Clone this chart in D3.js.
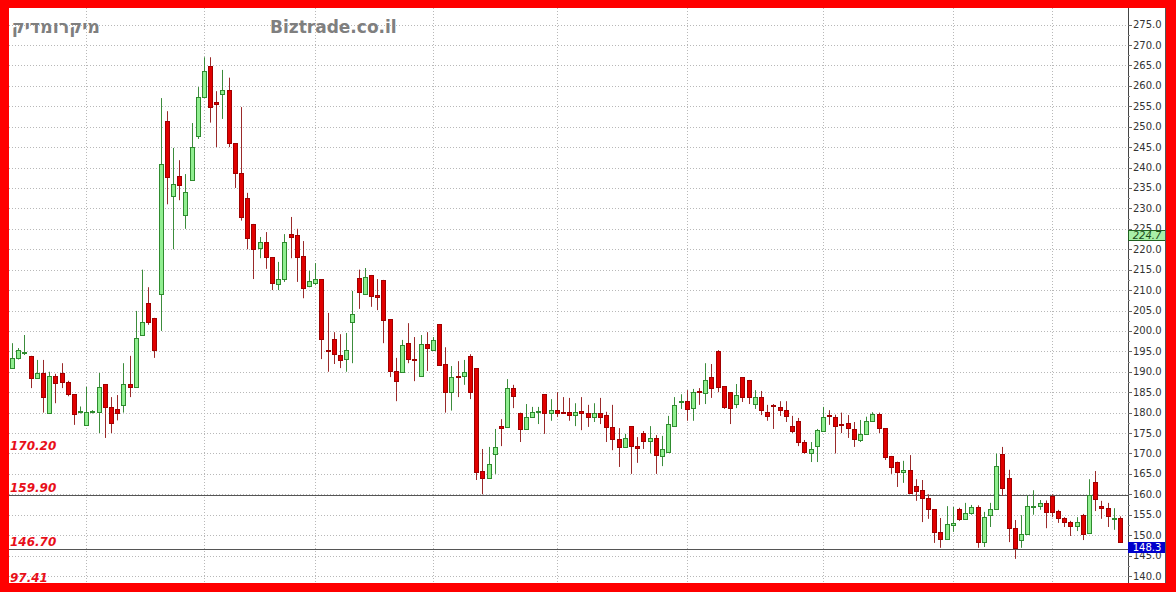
<!DOCTYPE html>
<html><head><meta charset="utf-8">
<script src="https://cdn.jsdelivr.net/npm/d3@7"></script>
<style>html,body{margin:0;padding:0;background:#fff;overflow:hidden}</style>
</head><body>
<svg id="c" width="1176" height="592"></svg>
<script>
// ---- data ----
const open  = [190.9,193.4,194.5,193.9,188.5,189.7,180.0,189.0,189.7,187.5,184.5,180.2,177.0,180.1,180.2,187.0,181.4,181.0,181.8,187.0,
186.3,199.0,206.8,203.2,209.0,251.4,233.0,237.9,228.4,237.0,247.7,257.3,264.8,256.0,257.9,259.0,246.0,238.6,232.5,226.2,
220.3,221.8,218.1,211.5,212.7,223.7,223.5,218.3,211.0,211.7,212.7,195.3,198.0,194.1,193.1,202.2,213.0,209.0,213.7,208.8,
212.5,202.9,190.2,190.0,197.0,193.1,189.0,196.8,195.3,201.7,191.9,185.0,188.9,188.9,193.9,190.9,165.7,164.0,169.9,176.7,
176.5,186.0,180.0,176.0,179.0,180.1,184.5,180.0,180.6,180.1,180.1,179.4,180.3,180.0,178.9,180.0,179.4,176.5,173.5,171.6,
176.7,171.8,175.0,173.0,173.8,169.4,170.4,176.7,182.6,182.8,181.1,185.3,184.8,188.7,195.1,186.5,185.0,182.1,188.7,188.0,
182.1,183.8,180.1,181.8,181.4,180.6,176.7,177.9,172.8,170.0,171.8,175.5,179.4,179.0,177.2,177.5,176.0,173.3,174.8,178.0,
179.7,176.2,169.4,167.9,165.5,166.0,162.0,161.0,159.0,156.4,150.8,149.0,152.6,156.4,154.0,155.4,156.9,148.3,154.9,156.4,
169.9,164.0,151.7,148.8,150.3,157.0,157.1,157.9,159.6,156.0,154.2,153.2,152.2,154.9,150.5,163.0,157.1,156.6,154.0,154.2];
const high  = [197.0,195.8,199.0,193.9,192.9,192.9,190.0,189.5,192.1,187.8,184.5,181.5,186.3,180.6,189.7,187.0,183.8,184.3,192.1,193.9,
204.9,215.0,210.7,203.2,257.0,253.8,244.8,241.8,238.4,250.9,259.7,267.0,267.0,258.7,263.9,262.0,246.0,254.8,233.8,226.2,
223.0,224.2,218.1,216.9,223.7,227.9,225.0,222.0,214.7,216.6,212.7,204.4,199.7,199.2,199.5,209.8,215.0,215.4,213.7,212.7,
212.5,202.9,193.4,197.8,201.9,198.5,199.0,199.7,198.5,201.7,196.0,191.4,192.6,192.9,194.3,190.9,171.1,171.6,176.0,178.4,
188.2,186.8,180.0,182.1,181.4,181.4,184.5,183.3,185.0,183.8,183.6,182.3,183.8,181.9,182.3,183.6,180.2,181.9,176.2,174.8,
176.7,174.0,175.5,176.7,174.5,174.3,179.2,183.8,184.5,185.5,185.8,186.0,192.1,191.9,195.3,186.5,185.0,187.0,188.7,188.0,
185.5,185.3,181.9,182.1,182.8,182.8,179.2,178.7,173.3,172.8,176.0,181.4,180.6,179.5,180.0,179.4,177.7,178.2,179.0,180.1,
180.0,176.2,169.4,168.0,168.2,169.6,163.7,163.5,160.0,156.4,154.2,157.1,156.9,156.7,157.9,157.4,157.3,155.7,157.9,170.0,
171.6,166.0,153.7,154.9,159.8,161.0,158.6,158.5,160.0,156.2,154.4,153.5,154.4,155.2,163.7,165.7,158.4,157.9,156.6,154.6];
const low   = [190.9,193.0,194.1,186.0,188.5,180.0,180.0,182.3,186.0,184.0,177.0,179.8,177.0,179.8,175.0,173.8,175.0,178.1,180.0,183.8,
186.3,199.0,201.5,193.4,200.0,231.0,220.0,232.0,225.0,237.0,247.0,257.0,251.0,245.0,251.9,245.0,235.0,227.0,220.0,212.7,
217.8,215.2,210.0,210.0,212.0,217.8,212.0,208.0,210.7,211.2,193.1,190.0,191.9,190.9,190.0,192.1,205.4,208.8,205.9,205.1,
197.0,188.7,182.8,190.0,192.1,187.7,189.0,190.2,195.3,191.6,180.0,180.5,183.8,186.8,183.3,163.5,160.0,164.0,165.0,171.8,
176.5,181.1,172.8,176.0,178.7,177.2,174.8,178.0,178.9,179.7,178.0,176.7,175.7,176.5,177.7,177.2,172.8,170.8,166.7,171.6,
165.0,167.7,171.1,170.0,165.0,166.9,170.4,176.7,180.9,178.0,178.0,181.9,182.1,183.6,185.0,180.9,177.2,181.1,182.6,182.1,
180.9,179.4,178.0,176.0,179.2,177.7,175.0,171.8,169.9,167.9,167.9,175.5,177.0,170.0,175.0,173.8,171.6,172.8,174.8,177.9,
175.0,168.4,165.0,161.8,162.8,160.3,158.4,153.2,154.0,148.1,146.9,149.0,150.8,153.5,154.0,155.0,146.9,147.1,152.0,156.4,
159.6,148.3,144.2,146.9,150.3,155.0,156.2,151.7,154.4,153.0,152.0,149.8,151.0,148.8,150.5,155.9,154.0,152.0,151.3,148.3];
const close = [193.4,195.3,194.8,188.5,189.7,183.8,189.0,187.2,187.5,184.5,179.7,180.5,180.2,180.3,186.3,181.4,177.4,180.0,187.0,186.3,
198.3,202.2,202.2,195.3,240.9,237.7,236.0,235.7,234.0,245.0,257.3,263.6,254.8,255.6,258.9,246.0,238.6,227.9,222.7,220.0,
221.8,218.1,211.7,212.7,221.8,223.0,218.1,210.5,212.3,212.7,198.0,195.0,194.3,192.9,195.3,204.1,209.5,213.2,208.5,208.3,
202.7,190.2,187.7,196.5,193.1,192.9,196.8,195.8,197.8,191.6,185.0,188.7,188.7,190.0,185.0,165.5,164.0,167.4,171.6,176.2,
186.0,184.0,176.0,179.0,180.2,180.3,180.0,180.6,179.9,179.9,179.5,180.2,180.0,179.0,180.0,179.0,176.5,173.5,171.6,173.8,
171.8,171.3,173.0,173.8,169.6,171.1,177.2,181.9,182.8,180.9,185.0,185.1,188.0,186.0,186.3,181.4,181.1,184.3,183.8,183.8,
183.8,180.6,179.2,181.6,180.6,179.2,175.5,172.8,170.4,171.1,175.7,179.0,179.2,176.7,177.0,176.2,173.5,174.8,178.0,179.7,
176.2,169.1,166.7,165.5,166.0,160.3,160.8,159.0,156.4,150.8,149.0,152.7,153.0,154.0,155.4,156.9,148.3,154.4,156.4,166.9,
161.5,151.7,146.9,150.3,157.1,157.2,157.9,155.7,155.7,154.2,153.2,152.2,153.2,150.3,159.8,158.9,156.6,154.7,154.3,148.3];
const days = open.map((_, i) => i);
const monthStarts = [12, 31, 49, 68, 88, 109, 131, 152, 168];
const yTicks = [140,145,150,155,160,165,170,175,180,185,190,195,200,205,210,215,220,225,230,235,240,245,250,255,260,265,270,275];
const levelValues = [170.20, 159.90, 146.70, 97.41];
const levelLines = [159.90, 146.70];
const lastPrice = 148.3;
const markerValue = 224.7;
const titleHe = "מיקרומדיק";
const siteName = "Biztrade.co.il";

// ---- drawing ----
const W = 1176, H = 592;
const L = 9, T = 8, R = 1128, B = 583;
const svg = d3.select("#c");
svg.append("rect").attr("width", W).attr("height", H).attr("fill", "#fff");

const x = d3.scalePoint().domain(days).range([12, 1120]);
const y = d3.scaleLinear().domain([140, 275]).range([576, 24.58]);

svg.append("defs").append("clipPath").attr("id", "plot")
  .append("rect").attr("x", L).attr("y", T).attr("width", R - L).attr("height", B - T);

const grid = svg.append("g");
grid.selectAll("line.h").data(yTicks).join("line")
  .attr("x1", L).attr("x2", R)
  .attr("y1", d => Math.round(y(d)) + 0.5).attr("y2", d => Math.round(y(d)) + 0.5)
  .attr("stroke", "#b8b8b8").attr("stroke-dasharray", "1,2");
grid.selectAll("line.v").data(monthStarts).join("line")
  .attr("x1", d => Math.round(x(d)) + 0.5).attr("x2", d => Math.round(x(d)) + 0.5)
  .attr("y1", T).attr("y2", B)
  .attr("stroke", "#b8b8b8").attr("stroke-dasharray", "1,2");

// level lines
svg.append("g").selectAll("line").data(levelLines).join("line")
  .attr("x1", L).attr("x2", R)
  .attr("y1", d => Math.round(y(d)) + 0.5).attr("y2", d => Math.round(y(d)) + 0.5)
  .attr("stroke", "#555").attr("stroke-width", 1);

// candles
const cg = svg.append("g").attr("clip-path", "url(#plot)");
days.forEach(i => {
  const o = open[i], c = close[i], h = high[i], l = low[i];
  const up = c >= o;
  const cx = Math.round(x(i));
  cg.append("line")
    .attr("x1", cx + 0.5).attr("x2", cx + 0.5)
    .attr("y1", y(h)).attr("y2", y(l))
    .attr("stroke", up ? "#3c8c3c" : "#9a2a2a").attr("stroke-width", 1);
  const top = Math.round(y(Math.max(o, c)));
  const bot = Math.round(y(Math.min(o, c)));
  const hh = Math.max(1, bot - top);
  cg.append("rect")
    .attr("x", cx - 1.5).attr("y", top + 0.5)
    .attr("width", 4).attr("height", hh)
    .attr("fill", up ? "#90ee90" : "#e00000")
    .attr("stroke", up ? "#2e8b2e" : "#a00000").attr("stroke-width", 1);
});

// right axis
const ax = svg.append("g");
ax.append("line").attr("x1", R + 0.5).attr("x2", R + 0.5).attr("y1", T).attr("y2", B)
  .attr("stroke", "#444");
ax.selectAll("line.mj").data(yTicks).join("line")
  .attr("x1", R).attr("x2", R + 4)
  .attr("y1", d => Math.round(y(d)) + 0.5).attr("y2", d => Math.round(y(d)) + 0.5)
  .attr("stroke", "#666");
ax.selectAll("line.mn").data(yTicks.slice(0, -1)).join("line")
  .attr("x1", R).attr("x2", R + 2)
  .attr("y1", d => Math.round(y(d + 2.5)) + 0.5).attr("y2", d => Math.round(y(d + 2.5)) + 0.5)
  .attr("stroke", "#888");
ax.selectAll("text").data(yTicks).join("text")
  .attr("x", 1133).attr("y", d => y(d) + 3.5)
  .attr("font-family", "DejaVu Sans, Verdana, sans-serif").attr("font-size", 10)
  .attr("fill", "#333").text(d => d.toFixed(1));

// marker boxes
function box(v, fill, stroke, txtColor, italic) {
  const yy = Math.round(y(v)) + 0.5;
  svg.append("rect").attr("x", R + 0.5).attr("y", yy).attr("width", 37).attr("height", 10)
    .attr("fill", fill).attr("stroke", stroke);
  svg.append("text").attr("x", R + 19).attr("y", yy + 8.5).attr("text-anchor", "middle")
    .attr("font-family", "DejaVu Sans, Verdana, sans-serif").attr("font-size", 10)
    .attr("font-style", italic ? "italic" : "normal")
    .attr("fill", txtColor).text(v.toFixed(1));
}
box(markerValue, "#a8f0a8", "#1f5f1f", "#1a4a1a", true);
box(lastPrice, "#0000cc", "#0000cc", "#ffffff", false);

// left level labels
svg.append("g").selectAll("text").data(levelValues).join("text")
  .attr("x", 10).attr("y", d => Math.min(582, y(d) - 3))
  .attr("font-family", "DejaVu Sans, Verdana, sans-serif").attr("font-size", 12)
  .attr("font-weight", "bold").attr("font-style", "italic")
  .attr("fill", "#e8101a").text(d => d.toFixed(2));

// titles
svg.append("text").attr("x", 100).attr("y", 33).attr("text-anchor", "end")
  .attr("font-family", "DejaVu Sans, sans-serif").attr("font-size", 17.5).attr("font-weight", "bold")
  .attr("fill", "#7f7f7f").text(titleHe);
svg.append("text").attr("x", 270).attr("y", 33)
  .attr("font-family", "DejaVu Sans, Verdana, sans-serif").attr("font-size", 17).attr("font-weight", "bold")
  .attr("fill", "#7f7f7f").text(siteName);

// right inner border and red frame
svg.append("line").attr("x1", 1165.5).attr("x2", 1165.5).attr("y1", T).attr("y2", B).attr("stroke", "#555");
const red = "#ff0000";
svg.append("rect").attr("x", 0).attr("y", 0).attr("width", W).attr("height", T).attr("fill", red);
svg.append("rect").attr("x", 0).attr("y", B).attr("width", W).attr("height", H - B).attr("fill", red);
svg.append("rect").attr("x", 0).attr("y", 0).attr("width", L).attr("height", H).attr("fill", red);
svg.append("rect").attr("x", 1166).attr("y", 0).attr("width", W - 1166).attr("height", H).attr("fill", red);
</script>
</body></html>
